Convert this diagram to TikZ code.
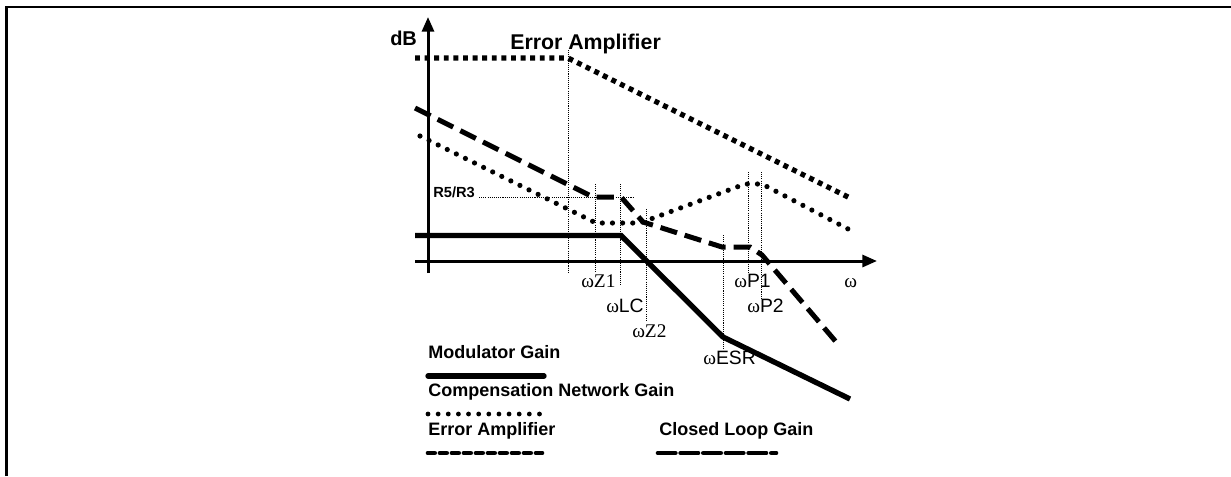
\documentclass[tikz,border=0pt]{standalone}
\usepackage{fontspec}
\setmainfont{Liberation Sans}
\newfontfamily\arialf{Liberation Sans}
\newfontfamily\tnrf{Liberation Serif}
\usetikzlibrary{arrows.meta}
\tikzset{
  axisline/.style={line width=2.25pt,-{Triangle[length=11pt,width=9pt]}},
  modline/.style={line width=4pt,line join=miter},
  closedline/.style={line width=3.75pt,dash pattern=on 13pt off 6pt},
  errline/.style={line width=3.9pt,dash pattern=on 3.7pt off 3.5pt},
  compline/.style={line width=3.9pt,line cap=round,dash pattern=on 0pt off 7.6pt},
  guide/.style={line width=0.75pt,dash pattern=on 0.8pt off 0.8pt},
  boldlbl/.style={inner sep=0pt,anchor=base west,font=\arialf\bfseries\fontsize{13.5}{15}\selectfont},
  wlbl/.style={inner sep=0pt,anchor=base west,font=\fontsize{14.5}{16}\selectfont},
}
\newcommand{\om}{{\tnrf ω}}
\begin{document}
\begin{tikzpicture}[x=0.75pt,y=-0.75pt]
\useasboundingbox (0,0) rectangle (1231,476);
% frame
\draw[line width=1.6pt] (6.5,476) -- (6.5,7) -- (1231,7);
% guides
\draw[guide] (568,50) -- (568,273);
\draw[guide] (595,184) -- (595,272);
\draw[guide] (620,184) -- (620,286);
\draw[guide] (646,209) -- (646,320);
\draw[guide] (723,235) -- (723,350);
\draw[guide] (748,172) -- (748,273);
\draw[guide] (761,172) -- (761,298);
\draw[guide] (479,197) -- (633,197);
% axes
\coordinate (yb) at (428,273); \coordinate (yt) at (428,17);
\coordinate (xl) at (415,261); \coordinate (xr) at (877,261);
\draw[axisline] (yb) -- (yt);
\draw[axisline] (xl) -- (xr);
% curves
\draw[errline] (415,58) -- (568,58) -- (850,198);
\draw[compline] (420,136) -- (596,223) -- (640,223) -- (745,184) -- (762,184) -- (850,230);
\draw[closedline] (415,108) -- (593,197) -- (621,197) -- (643,222) -- (722,247) -- (750,247) -- (762,255) -- (837,343);
\draw[modline] (415,235.5) -- (621,235.5) -- (723,337) -- (850,399);
% labels
\node[boldlbl,font=\arialf\bfseries\fontsize{15}{17}\selectfont] (dB) at (390,45) {dB};
\node[boldlbl,font=\arialf\bfseries\fontsize{16}{18}\selectfont] (eat) at (510,49) {Error Amplifier};
\node[boldlbl,font=\arialf\bfseries\fontsize{11}{13}\selectfont] (r5) at (433,197) {R5/R3};
\node[wlbl] (wz1) at (581,287) {\om{\tnrf Z1}};
\node[wlbl] (wlc) at (606,312) {\om LC};
\node[wlbl] (wz2) at (632,337) {\om{\tnrf Z2}};
\node[wlbl] (wesr) at (703,364) {\om ESR};
\node[wlbl] (wp1) at (734,287) {\om P1};
\node[wlbl] (wp2) at (747,312) {\om P2};
\node[wlbl] (w) at (844,287) {\om};
% legend
\node[boldlbl] (lmod) at (428,358) {Modulator Gain};
\draw[line width=4pt,line cap=round] (428,376) -- (544,376);
\node[boldlbl] (lcomp) at (428,396) {Compensation Network Gain};
\draw[line width=3.6pt,line cap=round,dash pattern=on 0pt off 7.6pt] (428,414) -- (540,414);
\node[boldlbl] (lerr) at (428,435) {Error Amplifier};
\draw[line width=3.5pt,line cap=round,dash pattern=on 5pt off 4pt] (428,453) -- (542,453);
\node[boldlbl] (lcl) at (659,435) {Closed Loop Gain};
\draw[line width=3.5pt,line cap=round,dash pattern=on 13pt off 4pt] (658,453) -- (776,453);
\end{tikzpicture}
\end{document}
